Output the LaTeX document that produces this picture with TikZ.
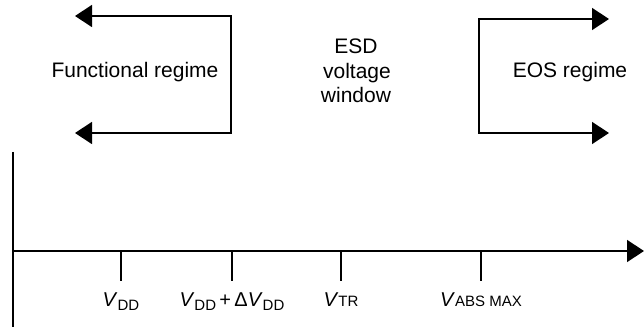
\documentclass[tikz,border=0pt]{standalone}
\usepackage{fontspec}
\setmainfont{Liberation Sans}
\usetikzlibrary{arrows.meta}
\newcommand{\lowsub}[1]{\raisebox{-4.5pt}{\fontsize{15}{15}\selectfont #1}}
\newcommand{\smallcap}[1]{{\fontsize{15}{15}\selectfont #1}}
\begin{document}
\begin{tikzpicture}[x=1pt,y=-1pt,line width=1.4pt,
  tri/.tip={Triangle[length=17pt,width=22pt]},
  lbl/.style={font=\fontsize{20}{24.5}\selectfont, inner sep=0pt, anchor=base},
  big/.style={font=\fontsize{21}{25}\selectfont, inner sep=0pt, anchor=base}]
\useasboundingbox (0,0) rectangle (644,328);
% left bracket
\coordinate (fT) at (231,16);
\coordinate (fB) at (231,133);
\coordinate (fTt) at (75,16);
\coordinate (fBt) at (75,133);
\draw[tri-tri] (fTt) -- (fT) -- (fB) -- (fBt);
\node[big] (func) at (135,78) {Functional regime};
% right bracket
\coordinate (eT) at (479,19);
\coordinate (eB) at (479,133);
\coordinate (eTt) at (609,19);
\coordinate (eBt) at (609,133);
\draw[tri-tri] (eTt) -- (eT) -- (eB) -- (eBt);
\node[big] (eos) at (570,78) {EOS regime};
% middle text
\node[big] (esd1) at (356,54) {ESD};
\node[big] (esd2) at (357,79) {voltage};
\node[big] (esd3) at (356,103) {window};
% axes
\coordinate (vtop) at (13,152);
\coordinate (vbot) at (13,327);
\coordinate (o) at (13,251);
\coordinate (xend) at (644,251);
\draw (vtop) -- (vbot);
\draw[-tri] (o) -- (xend);
% ticks
\coordinate (t1) at (121,251); \coordinate (t1b) at (121,281);
\coordinate (t2) at (232,251); \coordinate (t2b) at (232,281);
\coordinate (t3) at (341,251); \coordinate (t3b) at (341,281);
\coordinate (t4) at (481,251); \coordinate (t4b) at (481,281);
\draw (t1) -- (t1b);
\draw (t2) -- (t2b);
\draw (t3) -- (t3b);
\draw (t4) -- (t4b);
\node[lbl] (l1) at (121,306) {\textit{V}\lowsub{DD}};
\node[lbl] (l2) at (232,306) {\textit{V}\lowsub{DD}\,+\,Δ\textit{V}\lowsub{DD}};
\node[lbl] (l3) at (341,306) {\textit{V}\smallcap{TR}};
\node[lbl] (l4) at (481,306) {\textit{V}\smallcap{ABS MAX}};
\end{tikzpicture}
\end{document}
